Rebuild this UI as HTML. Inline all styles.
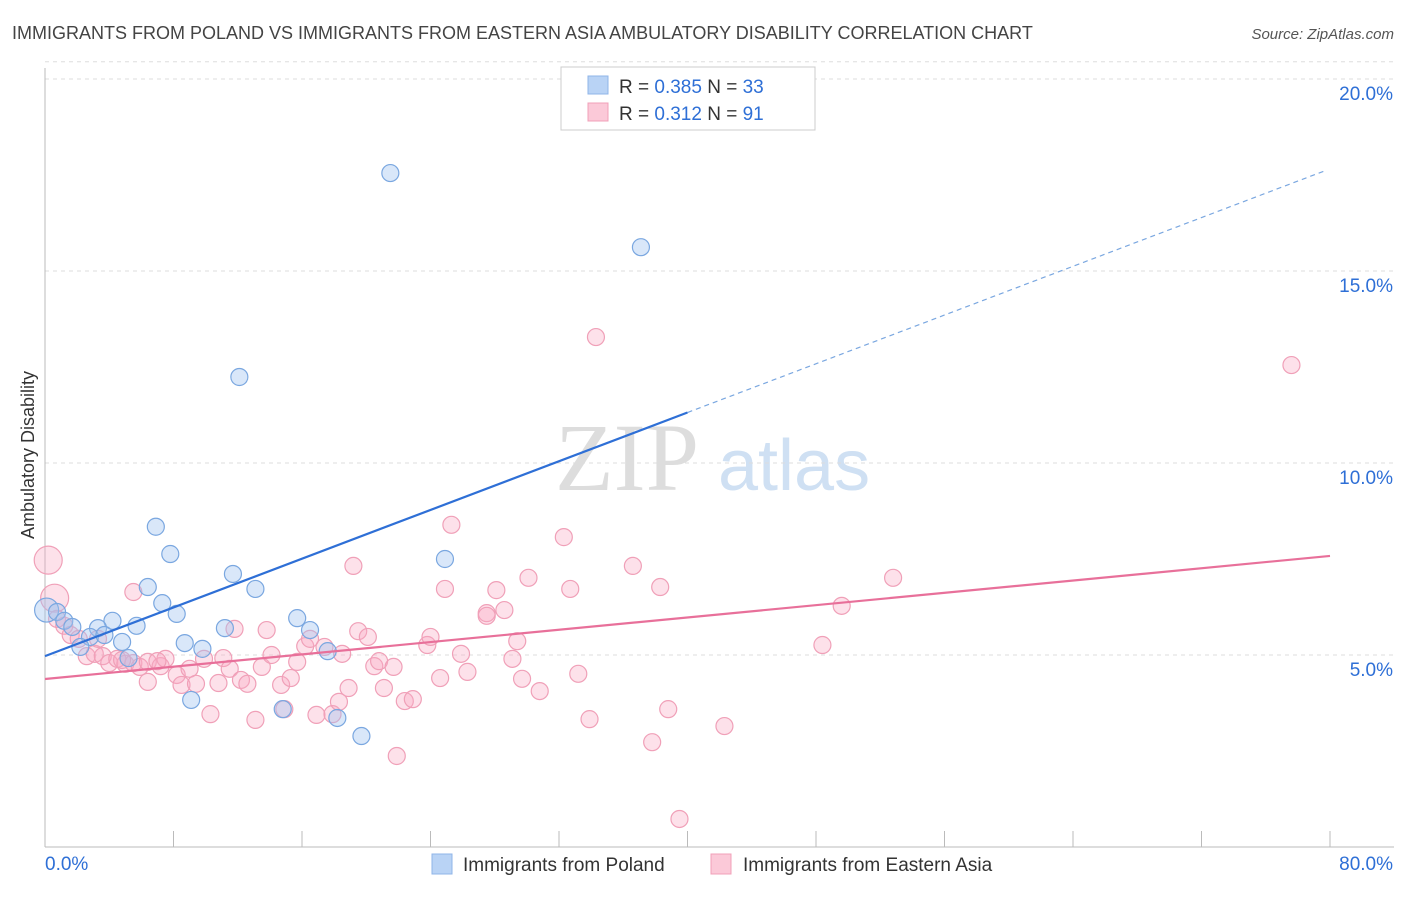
<!DOCTYPE html>
<html><head><meta charset="utf-8"><style>
body{margin:0;background:#fff;font-family:"Liberation Sans",sans-serif}
</style></head><body>
<svg id="chart" width="1406" height="892" xmlns="http://www.w3.org/2000/svg" font-family="Liberation Sans, sans-serif">
<text x="12" y="39" font-size="18" fill="#444">IMMIGRANTS FROM POLAND VS IMMIGRANTS FROM EASTERN ASIA AMBULATORY DISABILITY CORRELATION CHART</text>
<text x="1394" y="39" font-size="15" fill="#555" text-anchor="end" font-style="italic">Source: ZipAtlas.com</text>
<text x="555" y="490" font-size="96" fill="#ddd" font-family="Liberation Serif, serif">ZIP</text>
<text x="718" y="490" font-size="72" fill="#cfe0f3">atlas</text>
<text transform="translate(34,455) rotate(-90)" font-size="18" fill="#333" text-anchor="middle">Ambulatory Disability</text>
<g id="grid"></g><g id="axes"></g><g id="marks"></g>
<g>
<rect x="561" y="67" width="254" height="63" fill="#fff" stroke="#ccc"/>
<rect x="588" y="76" width="20" height="18" fill="#b9d3f5" stroke="#8fb4e8"/>
<rect x="588" y="103" width="20" height="18" fill="#fbc9d8" stroke="#f0a0b8"/>
<text x="619" y="93" font-size="19" fill="#333">R = <tspan fill="#2e6fd6">0.385</tspan>   N = <tspan fill="#2e6fd6">33</tspan></text>
<text x="619" y="120" font-size="19" fill="#333">R =  <tspan fill="#2e6fd6">0.312</tspan>   N =  <tspan fill="#2e6fd6">91</tspan></text>
</g>
<g>
<rect x="432" y="854" width="20" height="20" fill="#b9d3f5" stroke="#8fb4e8"/>
<text x="463" y="871" font-size="19" fill="#333">Immigrants from Poland</text>
<rect x="711" y="854" width="20" height="20" fill="#fbc9d8" stroke="#f0a0b8"/>
<text x="743" y="871" font-size="19" fill="#333">Immigrants from Eastern Asia</text>
</g>
</svg>
<script>
const yTicks=[5,10,15,20];
const yTickLabels=["5.0%","10.0%","15.0%","20.0%"];
const xTicks=[0,8,16,24,32,40,48,56,64,72,80];
const blueX=[21.5,37.1,12.1,6.9,7.8,24.9,11.7,6.4,13.1,7.3,8.2,0.1,0.75,1.2,1.7,4.2,5.7,3.3,2.8,3.7,4.8,8.7,9.8,11.2,15.7,16.5,17.6,5.2,2.2,9.1,14.8,18.2,19.7];
const blueY=[17.55,15.62,12.24,8.34,7.63,7.5,7.11,6.77,6.72,6.35,6.07,6.17,6.12,5.89,5.73,5.89,5.76,5.7,5.47,5.52,5.34,5.31,5.16,5.7,5.96,5.65,5.1,4.92,5.21,3.83,3.59,3.36,2.89];
const pinkX=[0.2,0.6,34.3,77.6,25.3,32.3,19.2,36.6,24.9,28.1,30.1,32.7,38.3,52.8,5.5,49.6,27.5,28.6,0.75,1.2,1.6,2.1,2.6,3.1,3.6,4.0,4.5,5.0,5.5,5.9,6.4,7.2,7.5,8.2,8.5,9.0,9.4,9.9,10.3,10.8,11.1,11.5,11.8,12.2,12.6,13.1,13.5,13.8,14.1,14.7,14.9,15.3,15.7,16.2,16.5,16.9,17.4,17.9,18.3,18.5,18.9,19.5,20.1,20.5,20.8,21.1,21.7,21.9,22.4,22.9,23.8,24.0,24.6,25.9,26.3,27.5,29.1,29.4,29.7,30.8,33.2,33.9,37.8,38.8,39.5,42.3,48.4,7.0,4.8,6.4,3.3];
const pinkY=[7.47,6.48,13.28,12.55,8.39,8.07,7.32,7.32,6.72,6.69,7.01,6.72,6.77,7.01,6.64,6.28,6.09,6.17,5.94,5.76,5.52,5.42,4.97,5.03,4.97,4.79,4.9,4.77,4.79,4.69,4.82,4.71,4.9,4.48,4.22,4.64,4.25,4.9,3.46,4.27,4.92,4.64,5.68,4.35,4.25,3.31,4.69,5.65,5.0,4.22,3.59,4.4,4.82,5.23,5.42,3.44,5.21,3.46,3.78,5.03,4.14,5.62,5.47,4.71,4.84,4.14,4.69,2.37,3.8,3.85,5.26,5.47,4.4,5.03,4.56,6.02,4.9,5.36,4.38,4.06,4.51,3.33,2.73,3.59,0.73,3.15,5.26,4.84,4.87,4.3,5.42];
const blueTrend=[4.97,17.66];
const pinkTrend=[4.375,7.58];
const NS="http://www.w3.org/2000/svg";
const X=v=>45+v/80*1285, Y=v=>847-v*38.4;
function mk(tag,attrs,parent){const e=document.createElementNS(NS,tag);for(const k in attrs)e.setAttribute(k,attrs[k]);document.getElementById(parent).appendChild(e);return e;}
yTicks.forEach((t,i)=>{
 const g=mk('line',{x1:45,x2:1394,y1:Y(t),y2:Y(t),stroke:'#ddd','stroke-dasharray':'4,4'},'grid');
 
 
 const l=mk('text',{x:1393,y:Y(t)+21,'font-size':19,fill:'#2e6fd6','text-anchor':'end'},'axes');
 l.textContent=yTickLabels[i];
 
 
});
const tg=mk('line',{x1:45,x2:1394,y1:Y(20.45),y2:Y(20.45),stroke:'#ddd','stroke-dasharray':'4,4'},'grid');


const xa=mk('line',{x1:45,x2:1394,y1:847,y2:847,stroke:'#bbb'},'axes');


const ya=mk('line',{x1:45,x2:45,y1:68,y2:847,stroke:'#bbb'},'axes');


xTicks.forEach(t=>{const e=mk('line',{x1:X(t),x2:X(t),y1:831,y2:847,stroke:'#bbb'},'axes');
 
 });
const x0=mk('text',{x:45,y:870,'font-size':19,fill:'#2e6fd6'},'axes');x0.textContent='0.0%';


const x1=mk('text',{x:1393,y:870,'font-size':19,fill:'#2e6fd6','text-anchor':'end'},'axes');x1.textContent='80.0%';


pinkX.forEach((v,i)=>{const r=i<2?14:8.5;const c=mk('circle',{cx:X(v),cy:Y(pinkY[i]),r:r,fill:'rgba(248,170,196,0.35)',stroke:'#f0a0b8','stroke-width':1.2},'marks');
 
 });
blueX.forEach((v,i)=>{const r=i==11?12:8.5;const c=mk('circle',{cx:X(v),cy:Y(blueY[i]),r:r,fill:'rgba(160,196,240,0.4)',stroke:'#7aa7e0','stroke-width':1.2},'marks');
 
 });
const bAt=x=>blueTrend[0]+(blueTrend[1]-blueTrend[0])*x/80;
const bl=mk('line',{x1:X(0),y1:Y(bAt(0)),x2:X(40),y2:Y(bAt(40)),stroke:'#2e6fd6','stroke-width':2.2},'marks');


const bd=mk('line',{x1:X(40),y1:Y(bAt(40)),x2:X(79.8),y2:Y(bAt(79.8)),stroke:'#7aa7e0','stroke-width':1.2,'stroke-dasharray':'5,4'},'marks');


const pl=mk('line',{x1:X(0),y1:Y(pinkTrend[0]),x2:X(80),y2:Y(pinkTrend[1]),stroke:'#e8709a','stroke-width':2.2},'marks');


</script>
</body></html>
